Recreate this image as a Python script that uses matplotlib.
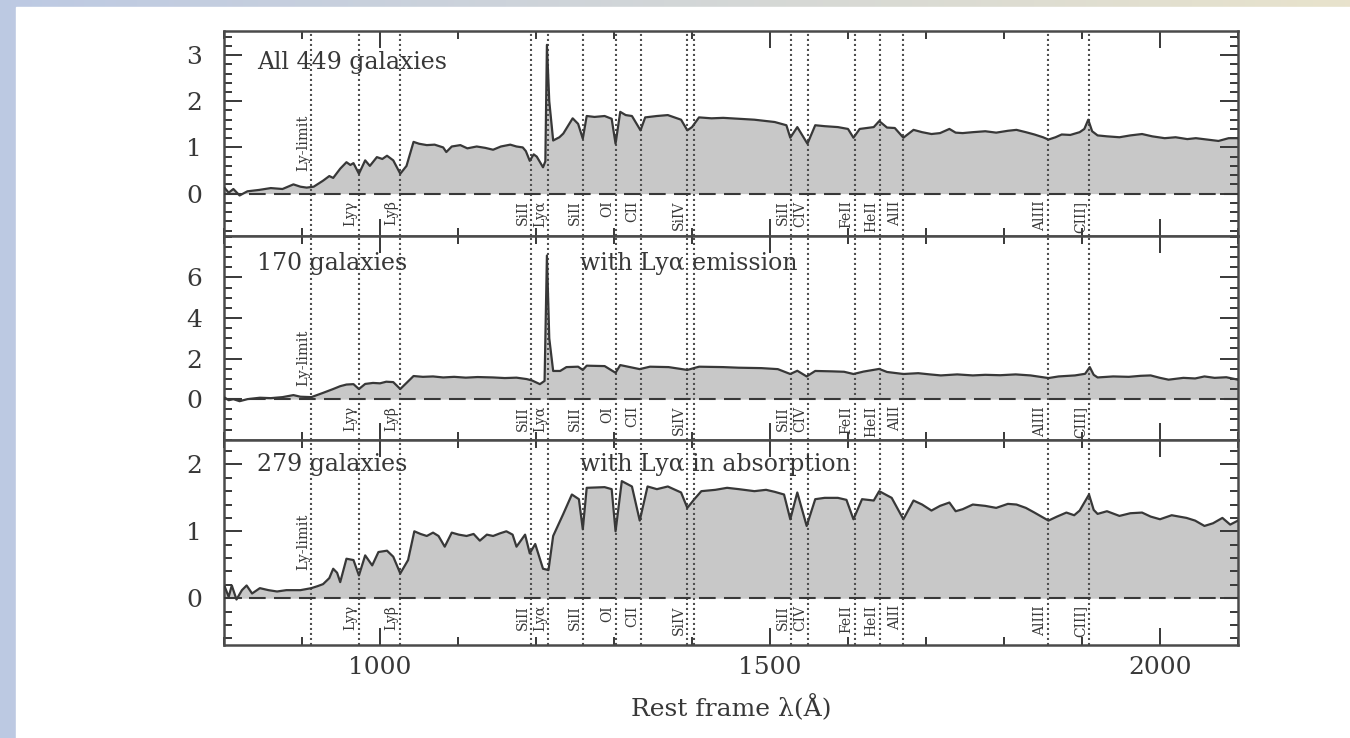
import matplotlib.pyplot as plt
import numpy as np

from matplotlib.patches import Rectangle
from matplotlib.ticker import FixedLocator, MultipleLocator

plt.rcParams["font.family"] = ["DejaVu Serif"]

INK = "#383838"
FILL = "#c8c8c8"

# rest wavelengths of the marked lines (dotted verticals) and their labels
LINE_WL = [912.0, 972.5, 1025.7, 1193.3, 1215.7, 1260.4, 1302.2, 1334.5,
           1393.8, 1402.8, 1526.7, 1549.0, 1608.5, 1640.4, 1670.8, 1857.0,
           1908.7]
LINE_NAMES = ["", "Lyγ", "Lyβ", "SiII", "Lyα", "SiII", "OI", "CII",
              "SiIV", "", "SiII", "CIV", "FeII", "HeII", "AlII", "AlIII",
              "CIII]"]
LYMAN_LIMIT = 912.0

PANEL_LEFT_TEXT = ["All 449 galaxies", "170 galaxies", "279 galaxies"]
PANEL_RIGHT_TEXT = ["", "with Lyα emission", "with Lyα in absorption"]

# composite spectrum, all 449 galaxies
WL_ALL = [801, 806, 812, 820, 830, 845, 860, 875, 889, 898, 906, 915, 927,
          935, 940, 949, 957, 962, 966, 973, 981, 987, 996, 1003, 1009, 1017,
          1026, 1034, 1040, 1043, 1050, 1060, 1070, 1081, 1085, 1092, 1103,
          1112, 1124, 1135, 1145, 1155, 1167, 1175, 1183, 1187, 1192, 1197,
          1201, 1209, 1212, 1214, 1217, 1222, 1230, 1235, 1247, 1254, 1260,
          1265, 1275, 1288, 1297, 1302, 1308, 1315, 1323, 1334, 1340, 1355,
          1369, 1386, 1394, 1400, 1409, 1425, 1440, 1460, 1480, 1506, 1521,
          1526, 1535, 1548, 1558, 1570, 1587, 1600, 1607, 1615, 1633, 1640,
          1650, 1660, 1671, 1684, 1695, 1707, 1718, 1730, 1738, 1747, 1760,
          1776, 1790, 1805, 1816, 1828, 1839, 1850, 1857, 1866, 1874, 1885,
          1897, 1903, 1908, 1913, 1920, 1932, 1948, 1962, 1977, 1990, 2006,
          2020, 2035, 2046, 2060, 2075, 2088, 2100]
FLUX_ALL = [0.12, 0.02, 0.10, -0.04, 0.05, 0.08, 0.12, 0.10, 0.20, 0.15,
            0.13, 0.15, 0.28, 0.38, 0.34, 0.54, 0.68, 0.62, 0.66, 0.43, 0.72,
            0.60, 0.79, 0.75, 0.82, 0.72, 0.43, 0.60, 0.95, 1.12, 1.08, 1.05,
            1.06, 1.00, 0.90, 1.02, 1.05, 0.98, 1.02, 0.99, 0.95, 1.02, 1.06,
            1.02, 1.00, 0.92, 0.71, 0.85, 0.80, 0.57, 0.70, 3.22, 2.00, 1.15,
            1.22, 1.30, 1.63, 1.51, 1.19, 1.68, 1.66, 1.68, 1.62, 1.08, 1.77,
            1.70, 1.68, 1.37, 1.65, 1.68, 1.70, 1.60, 1.37, 1.44, 1.65, 1.63,
            1.64, 1.62, 1.60, 1.55, 1.48, 1.21, 1.44, 1.08, 1.48, 1.46, 1.44,
            1.40, 1.21, 1.40, 1.44, 1.57, 1.43, 1.42, 1.21, 1.38, 1.33, 1.29,
            1.31, 1.40, 1.32, 1.31, 1.33, 1.35, 1.32, 1.36, 1.38, 1.33, 1.28,
            1.22, 1.17, 1.22, 1.28, 1.27, 1.33, 1.40, 1.60, 1.35, 1.26, 1.24,
            1.22, 1.26, 1.29, 1.24, 1.20, 1.22, 1.18, 1.20, 1.17, 1.14, 1.20,
            1.20]

# 170 galaxies with Ly-alpha in emission
WL_EMIS = [801, 806, 812, 820, 830, 846, 860, 875, 889, 898, 912, 927, 940,
           949, 957, 966, 973, 981, 991, 1000, 1008, 1017, 1026, 1034, 1043,
           1055, 1068, 1081, 1095, 1110, 1125, 1145, 1160, 1175, 1188, 1195,
           1205, 1211, 1214, 1217, 1222, 1231, 1239, 1254, 1260, 1265, 1288,
           1302, 1308, 1333, 1346, 1370, 1394, 1409, 1440, 1460, 1489, 1510,
           1526, 1535, 1547, 1558, 1580, 1595, 1607, 1620, 1640, 1650, 1671,
           1690, 1705, 1719, 1740, 1760, 1776, 1795, 1815, 1834, 1857, 1870,
           1891, 1904, 1910, 1915, 1920, 1940, 1960, 1975, 1988, 2000, 2011,
           2030, 2045, 2057, 2070, 2085, 2100]
FLUX_EMIS = [0.07, -0.05, 0.00, -0.10, 0.00, 0.07, 0.05, 0.10, 0.20, 0.12,
             0.10, 0.31, 0.50, 0.64, 0.72, 0.74, 0.50, 0.75, 0.80, 0.78, 0.86,
             0.84, 0.50, 0.80, 1.14, 1.10, 1.12, 1.07, 1.10, 1.06, 1.09, 1.07,
             1.04, 1.06, 0.99, 0.92, 0.74, 0.90, 7.08, 3.00, 1.39, 1.39, 1.58,
             1.60, 1.44, 1.65, 1.63, 1.30, 1.68, 1.48, 1.60, 1.58, 1.44, 1.60,
             1.58, 1.55, 1.53, 1.48, 1.24, 1.40, 1.12, 1.39, 1.37, 1.35, 1.24,
             1.36, 1.49, 1.34, 1.24, 1.28, 1.22, 1.17, 1.22, 1.17, 1.20, 1.18,
             1.22, 1.17, 1.04, 1.12, 1.17, 1.25, 1.58, 1.20, 1.07, 1.12, 1.10,
             1.15, 1.17, 1.05, 0.96, 1.05, 1.02, 1.12, 1.05, 1.08, 0.96]

# 279 galaxies with Ly-alpha in absorption
WL_ABS = [801, 806, 810, 816, 823, 829, 836, 846, 857, 868, 880, 898, 912,
          920, 927, 935, 940, 945, 949, 957, 966, 973, 981, 990, 998, 1009,
          1017, 1026, 1036, 1044, 1052, 1060, 1068, 1075, 1083, 1092, 1101,
          1111, 1120, 1128, 1137, 1145, 1154, 1162, 1170, 1175, 1186, 1192,
          1199, 1209, 1216, 1222, 1235, 1246, 1255, 1260, 1265, 1288, 1297,
          1302, 1310, 1323, 1333, 1343, 1355, 1369, 1386, 1394, 1403, 1412,
          1430, 1445, 1460, 1480, 1495, 1506, 1518, 1526, 1535, 1547, 1558,
          1570, 1587, 1598, 1607, 1618, 1633, 1640, 1656, 1671, 1684, 1695,
          1707, 1718, 1730, 1738, 1747, 1760, 1776, 1790, 1805, 1816, 1828,
          1839, 1848, 1857, 1868, 1880, 1890, 1897, 1909, 1915, 1920, 1932,
          1948, 1962, 1977, 1988, 2000, 2015, 2034, 2045, 2057, 2068, 2080,
          2090, 2100]
FLUX_ABS = [0.17, 0.02, 0.19, -0.02, 0.12, 0.19, 0.07, 0.15, 0.12, 0.10,
            0.12, 0.12, 0.15, 0.18, 0.21, 0.30, 0.44, 0.38, 0.24, 0.59, 0.57,
            0.34, 0.64, 0.49, 0.69, 0.71, 0.62, 0.37, 0.57, 1.00, 0.96, 0.93,
            0.98, 0.93, 0.77, 0.98, 0.95, 0.93, 0.96, 0.86, 0.95, 0.93, 0.97,
            1.00, 0.95, 0.77, 0.95, 0.67, 0.81, 0.44, 0.42, 0.93, 1.26, 1.55,
            1.48, 1.03, 1.65, 1.66, 1.63, 1.00, 1.75, 1.67, 1.16, 1.67, 1.63,
            1.67, 1.58, 1.35, 1.48, 1.60, 1.62, 1.65, 1.63, 1.60, 1.62, 1.59,
            1.55, 1.18, 1.58, 1.08, 1.48, 1.50, 1.50, 1.47, 1.18, 1.48, 1.46,
            1.60, 1.50, 1.18, 1.46, 1.40, 1.31, 1.38, 1.43, 1.30, 1.33, 1.40,
            1.38, 1.35, 1.41, 1.40, 1.35, 1.28, 1.22, 1.16, 1.22, 1.28, 1.24,
            1.31, 1.55, 1.32, 1.26, 1.30, 1.23, 1.27, 1.28, 1.22, 1.18, 1.24,
            1.20, 1.16, 1.08, 1.12, 1.20, 1.10, 1.16]

W, H = 1350, 738


def main() -> None:
    fig = plt.figure(figsize=(W / 100, H / 100), dpi=100)
    draw_background(fig)

    left, right = 224 / W, 1238 / W
    top, bottom = 1 - 31 / H, 1 - 645 / H
    h = (top - bottom) / 3

    axes = [fig.add_axes([left, top - (i + 1) * h, right - left, h])
            for i in range(3)]

    draw_panel(axes[0], WL_ALL, FLUX_ALL, (-0.91, 3.52), [0, 1, 2, 3], 0.2)
    draw_panel(axes[1], WL_EMIS, FLUX_EMIS, (-2.03, 8.06), [0, 2, 4, 6], 0.5)
    draw_panel(axes[2], WL_ABS, FLUX_ABS, (-0.70, 2.36), [0, 1, 2], 0.2)

    text_y = [2.83, 6.7, 2.0]
    limit_off = [16, 9.5, 20]
    for i, ax in enumerate(axes):
        ax.text(842, text_y[i], PANEL_LEFT_TEXT[i], va="center",
                fontsize=17, color=INK)
        if PANEL_RIGHT_TEXT[i]:
            ax.text(1256, text_y[i], PANEL_RIGHT_TEXT[i], va="center",
                    fontsize=17, color=INK)
        ax.annotate("Ly-limit", xy=(LYMAN_LIMIT, 0),
                    xytext=(-6, limit_off[i]), textcoords="offset points",
                    rotation=90, ha="center", va="bottom", fontsize=10.5,
                    color=INK)

    for ax in axes[:2]:
        ax.tick_params(axis="x", labelbottom=False)

    axes[2].set_xticklabels(["1000", "1500", "2000"])
    fig.text(731 / W, 1 - 708 / H, "Rest frame λ(Å)", ha="center",
             va="center", fontsize=18, color=INK)

    fig.savefig("out.png", dpi=100)


def draw_background(fig) -> None:
    bg = fig.add_axes([0, 0, 1, 1], zorder=-10)
    bg.set_axis_off()
    t = np.linspace(0, 1, 256)[:, None]
    c0 = np.array([0.74, 0.79, 0.89])
    c1 = np.array([0.91, 0.89, 0.80])
    grad = c0 * (1 - t) + c1 * t
    bg.imshow(grad[None, :, :], aspect="auto", extent=[0, 1, 0, 1])
    bg.add_patch(Rectangle((16 / W, 0), 1, 1 - 7 / H, color="white"))
    bg.set_xlim(0, 1)
    bg.set_ylim(0, 1)


def draw_panel(ax, wl, flux, ylim, yticks, yminor) -> None:
    wl = np.array(wl, dtype=float)
    flux = np.array(flux)

    ax.fill_between(wl, 0, flux, color=FILL, lw=0, zorder=1)
    ax.plot(wl, flux, color=INK, lw=1.6, zorder=4)
    ax.axhline(0, color=INK, lw=1.5, dashes=(8, 4), zorder=3)

    for w, name in zip(LINE_WL, LINE_NAMES):
        ax.axvline(w, color="#505050", lw=1.5, ls=(0, (1, 1.4)), zorder=2)
        if name:
            ax.annotate(name, xy=(w, 0), xytext=(-6, -5),
                        textcoords="offset points", rotation=90,
                        ha="center", va="top", fontsize=10, color=INK)

    ax.set_xlim(800, 2100)
    ax.set_ylim(*ylim)

    ax.xaxis.set_major_locator(FixedLocator([1000, 1500, 2000]))
    ax.xaxis.set_minor_locator(MultipleLocator(100))
    ax.yaxis.set_major_locator(FixedLocator(yticks))
    ax.yaxis.set_minor_locator(MultipleLocator(yminor))

    ax.tick_params(which="both", direction="in", top=True, right=True,
                   color=INK, width=1.4, labelcolor=INK, labelsize=18)
    ax.tick_params(axis="x", which="major", length=12, pad=8)
    ax.tick_params(axis="y", which="major", length=13, pad=16)
    ax.tick_params(which="minor", length=6)

    for side in ax.spines.values():
        side.set_linewidth(1.8)
        side.set_color("#4a4a4a")


if __name__ == "__main__":
    main()
